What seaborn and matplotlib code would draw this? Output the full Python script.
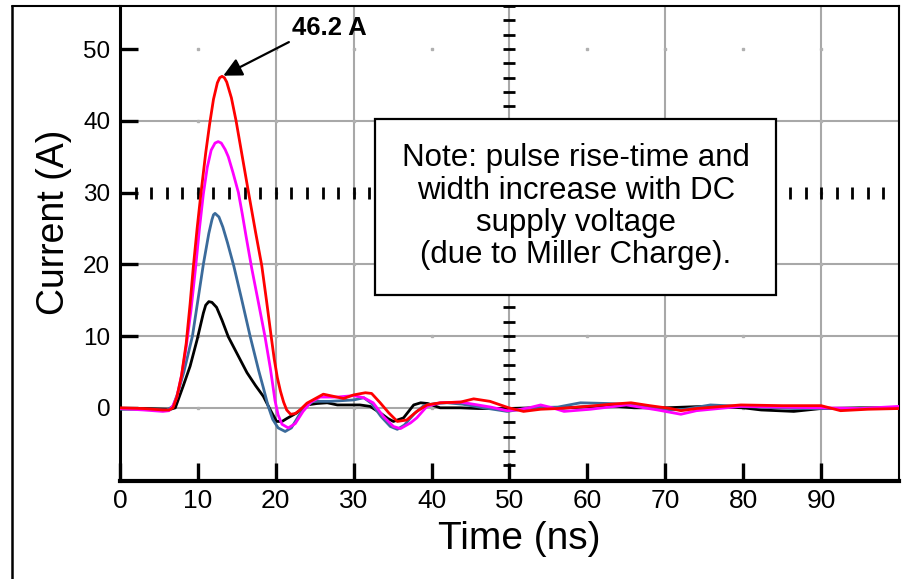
import numpy as np
import pandas as pd
import seaborn as sns
import matplotlib.pyplot as plt
from matplotlib.lines import Line2D
from matplotlib.patches import Rectangle

# scope traces: time in ns, current in A
black_t = [0, 3, 6.5, 7.1, 8.1, 9.0, 9.9, 10.7, 11.0, 11.4, 11.8, 12.4, 13.1, 13.9, 15.1, 16.3, 17.4,
           18.4, 19.3, 20.1, 20.8, 21.4, 22.7, 24.0, 25.3, 26.6, 27.9, 30.8, 32.1, 33.4, 34.4, 35.1,
           36.4, 37.7, 38.6, 39.5, 41.1, 43.7, 46, 49.7, 53, 56, 59, 62.6, 66, 70, 75, 80, 82.3,
           86.5, 90, 95, 100]
black_i = [-0.1, -0.1, -0.2, 0.0, 3.0, 5.8, 9.5, 13.2, 14.3, 14.8, 14.7, 14.0, 12.2, 9.9, 7.4, 4.9, 3.1,
           1.6, -0.3, -1.9, -1.9, -1.5, -0.7, 0.4, 0.6, 0.7, 0.4, 0.4, 0.2, -0.7, -1.5, -1.9,
           -1.4, 0.4, 0.7, 0.6, 0.0, 0.0, -0.1, -0.1, 0.0, -0.1, 0.1, 0.3, 0.0, 0.0, 0.2, 0.0, -0.3,
           -0.5, -0.1, 0.0, 0.0]

blue_t = [0, 3, 6.0, 6.8, 7.4, 8.2, 9.3, 10.0, 10.7, 11.4, 11.8, 12.0, 12.2, 12.7, 13.2, 13.8, 14.6,
          15.6, 16.7, 17.8, 18.4, 19.0, 19.6, 20.3, 21.2, 22.0, 23.0, 24.0, 24.8, 27.0, 30.0, 31.3,
          32.3, 33.5, 34.7, 35.6, 36.5, 37.8, 39.0, 40.5, 42.0, 44.0, 46.7, 49.7, 52.7, 56.2, 59.1,
          62.6, 66.8, 70.7, 72.5, 75.8, 79.7, 86.5, 90, 95, 100]
blue_i = [-0.2, -0.2, -0.3, 0.2, 2.0, 5.0, 10.0, 15.0, 20.0, 24.3, 26.2, 26.9, 27.1, 26.6, 25.2, 23.0, 19.8,
          15.2, 10.0, 5.2, 2.8, 0.3, -1.6, -2.8, -3.3, -2.8, -1.0, 0.3, 0.9, 0.9, 1.1, 1.4,
          0.6, -1.2, -2.6, -3.0, -2.4, -0.8, 0.3, 0.6, 0.7, 0.5, 0.0, -0.5, 0.0, 0.1, 0.7,
          0.6, 0.4, -0.3, -0.2, 0.4, 0.2, -0.1, -0.1, -0.1, -0.1]

mag_t = [0, 3, 5.5, 6.3, 6.8, 7.3, 7.9, 8.5, 9.1, 9.7, 10.2, 10.7, 11.2, 11.7, 12.2, 12.6, 13.0, 13.5,
         13.9, 14.5, 15.2, 15.7, 16.2, 16.9, 17.8, 18.6, 19.3, 19.9, 20.3, 20.8, 21.6, 22.5, 23.5,
         24.5, 25.7, 27.0, 27.9, 30.0, 31.3, 32.5, 33.8, 35.1, 36.0, 37.3, 38.1, 39.4, 41.1, 43.7,
         47.6, 49.7, 51.0, 52.5, 54.0, 55.5, 57.0, 60.4, 65.0, 69.0, 72.0, 74, 79.7, 85, 90, 95.1, 100]
mag_i = [-0.1, -0.3, -0.5, -0.4, 0.3, 1.5, 4.5, 8.5, 13.5, 19.5, 25.0, 29.8, 33.5, 35.9, 36.9, 37.1, 36.9, 36.0,
         35.0, 32.8, 30.0, 27.0, 23.8, 19.5, 14.5, 10.0, 5.5, 1.0, -1.0, -2.3, -2.8, -2.2, -0.5,
         0.8, 1.5, 1.5, 1.5, 1.7, 1.4, 0.7, -1.2, -2.6, -2.9, -2.1, -1.4, 0.2, 0.7, 0.8,
         0.1, -0.4, -0.3, 0.0, 0.4, 0.0, -0.5, -0.2, 0.4, -0.3, -0.9, -0.4, 0.2, 0.1, 0.0, -0.1, 0.2]

red_t = [0, 3, 5.5, 6.3, 6.8, 7.3, 7.9, 8.5, 9.0, 9.4, 9.9, 10.4, 11.0, 11.5, 12.0, 12.5, 12.8, 13.1,
         13.4, 13.7, 14.3, 14.9, 15.7, 16.5, 17.4, 18.2, 18.8, 19.4, 19.8, 20.2, 20.6, 21.0, 21.4,
         21.9, 22.5, 23.1, 24.0, 26.1, 27.4, 28.7, 30.0, 31.5, 32.3, 33.4, 34.5, 35.6, 36.8, 38.1,
         39.4, 41.1, 43.7, 45.4, 47.5, 49.9, 51.8, 54.0, 56.2, 60.0, 63.0, 65.6, 68.0, 70.7, 72.0,
         74.0, 79.7, 85.0, 90.0, 92.5, 96.0, 100]
red_i = [0.0, -0.1, -0.3, -0.3, 0.0, 1.5, 4.5, 9.0, 14.5, 19.5, 25.0, 30.0, 35.5, 39.5, 43.0, 45.3, 46.0, 46.2,
         46.0, 45.4, 43.2, 40.0, 35.0, 30.0, 24.5, 19.8, 15.0, 10.0, 6.8, 4.2, 2.3, 0.8, -0.3,
         -0.9, -0.8, -0.3, 0.65, 1.9, 1.6, 1.3, 1.8, 2.1, 2.0, 0.7, -0.7, -1.9, -1.7, -0.5,
         0.4, 0.7, 0.8, 1.25, 0.9, 0.0, -0.5, -0.2, -0.1, 0.2, 0.5, 0.7, 0.3, -0.1, -0.4,
         -0.1, 0.4, 0.3, 0.3, -0.4, -0.2, -0.1]

trace_names = ["black", "blue", "magenta", "red"]
trace_colors = ["#000000", "#3b6b9b", "#ff00ff", "#ff0000"]

x_ticks = [0, 10, 20, 30, 40, 50, 60, 70, 80, 90]
y_ticks = [0, 10, 20, 30, 40, 50]
grid_x = [20, 30, 50, 70, 90]
grid_y = [0, 10, 20, 40]
peak_label = "46.2 A"
note_text = "Note: pulse rise-time and\nwidth increase with DC\nsupply voltage\n(due to Miller Charge)."

frames = []
for name, t, cur in zip(trace_names, [black_t, blue_t, mag_t, red_t], [black_i, blue_i, mag_i, red_i]):
    frames.append(pd.DataFrame({"time": t, "current": cur, "trace": name}))
df = pd.concat(frames, ignore_index=True)

sns.set_style("white")
plt.rcParams["font.family"] = ["Liberation Sans", "DejaVu Sans"]
plt.rcParams.update({
    "text.color": "black", "axes.labelcolor": "black",
    "xtick.color": "black", "ytick.color": "black",
    "xtick.bottom": True, "ytick.left": True,
})

fig = plt.figure(figsize=(9.03, 5.79), dpi=100)
ax = fig.add_axes([120 / 903, 1 - 481 / 579, 779 / 903, 475 / 579])

# scope graticule
for gx in grid_x:
    ax.axvline(gx, color="#a8a8a8", lw=1.5, zorder=0)
for gy in grid_y:
    ax.axhline(gy, color="#a8a8a8", lw=1.5, zorder=0)
gxx, gyy = np.meshgrid(np.arange(10, 100, 10), np.arange(0, 60, 10))
ax.plot(gxx.ravel(), gyy.ravel(), ls="none", marker="s", ms=1.5, color="#b0b0b0", zorder=0)
ydash = np.arange(-10, 57, 2)
ax.plot(np.full(len(ydash), 50), ydash, ls="none", marker="_", ms=8, mew=2, color="black", zorder=1)
xdash = np.arange(0, 101, 2)
ax.plot(xdash, np.full(len(xdash), 30), ls="none", marker="|", ms=8, mew=2, color="black", zorder=1)

sns.lineplot(data=df, x="time", y="current", hue="trace", hue_order=trace_names,
             palette=trace_colors, estimator=None, sort=False, linewidth=2.0,
             legend=False, ax=ax, zorder=3)

ax.set_xlim(0, 100)
ax.set_ylim(-10.2, 56)
ax.set_xticks(x_ticks)
ax.set_yticks(y_ticks)
ax.tick_params(axis="x", bottom=True, direction="in", length=13, width=2.4,
               color="black", labelcolor="black", labelsize=19, pad=6)
ax.tick_params(axis="y", left=True, direction="in", length=13, width=2.4,
               color="black", labelcolor="black", labelsize=17.5, pad=7)
for side in ["left", "bottom", "top", "right"]:
    ax.spines[side].set_color("black")
ax.spines["left"].set_linewidth(2.2)
ax.spines["bottom"].set_linewidth(3)
ax.spines["top"].set_linewidth(1.5)
ax.spines["right"].set_linewidth(1.5)

ax.set_xlabel("Time (ns)", fontsize=28, color="black")
ax.xaxis.set_label_coords(0.513, -0.085)
ax.set_ylabel("Current (A)", fontsize=27, color="black")
ax.yaxis.set_label_coords(-0.062, 0.545)

# peak annotation on the red trace
k = int(np.argmax(red_i))
ax.annotate(peak_label, xy=(red_t[k], red_i[k]), xytext=(22.1, 51.9), textcoords="data",
            fontsize=18.5, fontweight="bold", color="black", ha="left", va="baseline",
            arrowprops=dict(arrowstyle="-|>", color="black", lw=1.6, mutation_scale=28,
                            shrinkA=0, shrinkB=1, relpos=(0, 0)), zorder=5)

# note box
ax.add_patch(Rectangle((0.327, 0.392), 0.515, 0.37, transform=ax.transAxes,
                       facecolor="white", edgecolor="black", lw=1.6, zorder=4))
ax.text(0.585, 0.577, note_text, transform=ax.transAxes, ha="center", va="center",
        multialignment="center", fontsize=22.5, linespacing=1.1, color="black", zorder=5)

# outer frame of the figure
fig.add_artist(Line2D([12 / 903, 12 / 903], [0, 1 - 6 / 579], transform=fig.transFigure,
                      color="black", lw=1.8))
fig.add_artist(Line2D([12 / 903, 120 / 903], [1 - 6 / 579, 1 - 6 / 579], transform=fig.transFigure,
                      color="black", lw=1.5))

fig.savefig("out.png", dpi=100)
